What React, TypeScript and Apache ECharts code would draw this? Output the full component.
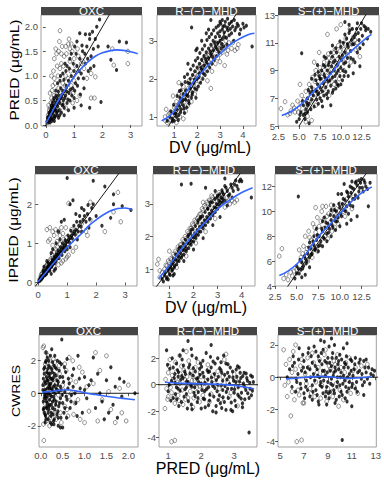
import React, { useEffect, useRef } from "react";
import * as echarts from "echarts";

type Pt = [number, number];

const NARROW = "'Liberation Sans Narrow','Arial Narrow','Liberation Sans',Arial,sans-serif";
const REG = "'Liberation Sans',Arial,sans-serif";

const strips = ["OXC", "R\u2212(\u2212)\u2212MHD", "S\u2212(+)\u2212MHD"];
const rowYTitles = ["PRED (\u03bcg/mL)", "IPRED (\u03bcg/mL)", "CWRES"];
const rowXTitles = ["DV (\u03bcg/mL)", "DV (\u03bcg/mL)", "PRED (\u03bcg/mL)"];

// ---------- Row 1: PRED vs DV ----------
const predDvOxcFilled: Pt[] = [
  [0.05,0.08],[0.08,0.12],[0.1,0.18],[0.12,0.1],[0.15,0.22],[0.18,0.3],[0.2,0.15],[0.22,0.25],[0.25,0.35],[0.28,0.2],
  [0.3,0.4],[0.32,0.3],[0.35,0.45],[0.38,0.25],[0.4,0.5],[0.42,0.38],[0.45,0.6],[0.48,0.3],[0.5,0.45],[0.55,0.55],
  [0.58,0.4],[0.6,0.7],[0.62,0.5],[0.65,0.35],[0.7,0.6],[0.72,0.8],[0.75,0.45],[0.8,0.9],[0.82,0.65],[0.85,0.5],
  [0.9,1.0],[0.95,0.75],[1.0,1.1],[1.0,0.55],[1.05,0.85],[1.1,1.2],[1.15,0.95],[1.2,1.35],[1.25,1.05],[1.3,1.5],
  [1.35,0.75],[1.4,1.25],[1.45,1.6],[1.5,1.1],[1.55,1.75],[1.6,1.4],[1.65,1.9],[1.7,1.2],[1.8,2.0],[1.85,1.6],
  [1.9,2.15],[1.95,0.47],[1.55,0.35],[2.3,1.33],[2.5,1.12],[2.6,1.7],[2.85,1.68],[2.2,1.6],[1.4,1.85],[1.1,1.7],
  [0.9,1.45],[0.75,1.2],[0.6,1.05],[0.5,0.9],[0.35,0.7],[1.25,0.4],[1.0,0.35],[0.8,0.3],[0.45,0.15],[0.3,0.08],
  [0.15,0.05],[0.25,0.12],[0.4,0.2],[0.55,0.25],[0.65,0.2],[1.2,1.87],[1.55,1.85],[0.2,0.4],[0.28,0.5],[0.33,0.18],
  [0.06,0.15],[0.09,0.05],[0.11,0.25],[0.13,0.17],[0.17,0.12],[0.19,0.35],[0.21,0.08],[0.23,0.45],[0.26,0.27],[0.29,0.55],
  [0.31,0.15],[0.34,0.32],[0.36,0.6],[0.39,0.42],[0.41,0.28],[0.44,0.68],[0.47,0.52],[0.49,0.2],[0.53,0.75],[0.57,0.62],
  [0.61,0.42],[0.64,0.92],[0.67,0.55],[0.71,1.1],[0.74,0.68],[0.78,0.52],[0.83,1.15],[0.87,0.72],[0.92,0.6],[0.97,1.25],
  [1.02,0.7],[1.07,1.45],[1.12,0.8],[1.18,1.1],[1.22,0.62],[1.28,1.62],[1.33,0.95],[1.38,1.45],[1.48,1.35],[1.58,1.15],
  [1.68,1.55],[1.75,1.75],[1.02,1.6],[0.85,1.35],[0.68,1.25],[0.52,1.0],[0.42,0.85],[0.38,0.55],[0.27,0.38],[0.16,0.28]
];
const predDvOxcOpen: Pt[] = [
  [0.5,1.92],[0.35,1.55],[0.45,1.5],[0.55,1.45],[0.7,1.6],[0.8,1.65],[0.85,1.55],[0.9,1.65],[0.65,1.4],[0.3,1.35],
  [0.4,1.2],[0.5,1.15],[0.2,1.0],[0.3,0.95],[0.25,0.8],[0.15,0.65],[0.2,0.55],[0.1,0.4],[0.12,0.3],[0.18,0.45],
  [0.3,0.6],[0.45,0.75],[0.6,0.85],[0.7,1.0],[0.55,1.25],[0.75,0.7],[0.9,0.8],[1.0,0.9],[1.0,1.35],[1.15,1.4],
  [1.3,1.3],[1.2,0.6],[1.1,0.5],[0.95,0.45],[0.7,0.35],[0.5,0.3],[0.35,0.35],[0.1,0.15],[0.05,0.05],[1.6,0.55],
  [1.72,0.55],[1.75,0.98],[2.4,1.22],[2.9,1.25],[2.9,1.5],[2.35,1.55],[1.6,1.05],[1.45,0.95],[0.85,1.3],[0.6,0.6],
  [0.08,0.2],[0.14,0.35],[0.22,0.7],[0.27,1.1],[0.33,0.85],[0.38,1.45],[0.43,1.0],[0.48,1.7],[0.52,0.65],[0.58,1.6],
  [0.62,1.2],[0.68,0.8],[0.73,1.45],[0.78,0.95],[0.82,1.75],[0.88,1.1],[0.93,1.5],[0.97,0.65],[1.05,1.2],[1.12,1.55],
  [1.25,1.25],[1.35,1.15],[0.25,0.5],[0.4,0.45],[0.16,0.2]
];
const predDvRFilled: Pt[] = [
  [0.7,0.9],[0.8,1.0],[0.9,0.95],[1.0,1.1],[1.0,0.9],[1.1,1.2],[1.1,1.0],[1.2,1.3],[1.2,1.05],[1.25,1.5],
  [1.3,1.2],[1.3,1.4],[1.4,1.6],[1.4,1.3],[1.45,1.1],[1.5,1.7],[1.5,1.45],[1.55,1.25],[1.6,1.9],[1.6,1.55],
  [1.65,1.35],[1.7,1.75],[1.7,2.0],[1.75,1.5],[1.8,2.1],[1.8,1.65],[1.85,1.9],[1.9,2.2],[1.9,1.75],[1.95,1.5],
  [2.0,2.3],[2.0,2.0],[2.05,1.8],[2.1,2.4],[2.1,2.15],[2.15,1.9],[2.2,2.5],[2.2,2.25],[2.25,2.0],[2.3,2.6],
  [2.3,2.35],[2.35,2.1],[2.4,2.7],[2.4,2.45],[2.45,2.2],[2.5,2.8],[2.5,2.55],[2.55,2.3],[2.6,2.9],[2.6,2.65],
  [2.65,2.4],[2.7,3.0],[2.7,2.75],[2.75,2.5],[2.8,3.1],[2.8,2.85],[2.85,2.6],[2.9,3.2],[2.9,2.95],[2.95,2.7],
  [3.0,3.25],[3.0,3.0],[3.05,2.8],[3.1,3.3],[3.1,3.05],[3.15,2.85],[3.2,3.4],[3.2,3.1],[3.3,3.35],[3.3,2.9],
  [3.4,3.45],[3.4,3.15],[3.5,3.5],[3.5,3.2],[3.6,3.0],[3.7,3.35],[3.8,3.4],[3.9,3.3],[4.0,3.45],[4.4,2.85],
  [1.76,3.35],[2.6,3.55],[3.0,3.5],[2.2,3.0],[1.6,2.4],[1.3,1.7],[2.0,2.8],[3.1,3.55],[2.4,3.2],[2.5,3.3],
  [0.85,1.15],[0.92,0.88],[0.98,1.32],[1.07,1.08],[1.13,1.55],[1.18,0.92],[1.23,1.68],[1.28,1.12],[1.33,1.85],[1.38,1.45],
  [1.43,1.22],[1.48,1.92],[1.53,1.58],[1.58,2.12],[1.63,1.42],[1.68,1.88],[1.72,2.25],[1.78,1.58],[1.83,2.35],[1.88,1.98],
  [1.93,2.48],[1.98,1.72],[2.03,2.55],[2.08,2.05],[2.12,2.68],[2.17,2.3],[2.23,2.78],[2.27,2.15],[2.33,2.88],[2.38,2.52],
  [2.43,3.02],[2.48,2.38],[2.53,3.1],[2.58,2.72],[2.63,3.18],[2.68,2.58],[2.72,3.28],[2.78,2.95],[2.83,3.35],[2.88,2.78],
  [2.93,3.4],[2.98,3.12],[3.03,3.45],[3.08,2.92],[3.13,3.38],[3.18,3.22],[3.23,3.5],[3.28,3.08],[3.35,3.28],[3.45,3.32],
  [3.55,3.38],[3.65,3.28],[3.75,3.45],[3.85,3.18],[4.05,3.35],[4.15,3.4],[3.62,3.55],[3.33,3.58],[1.95,2.75],[1.45,2.05]
];
const predDvROpen: Pt[] = [
  [0.6,1.0],[0.65,1.2],[0.7,0.85],[0.8,1.1],[0.9,1.05],[1.0,1.25],[1.05,0.95],[1.1,1.4],[1.15,1.15],[1.2,1.6],
  [1.25,1.0],[1.3,1.55],[1.35,1.25],[1.4,1.8],[1.45,1.4],[1.5,1.15],[1.55,1.65],[1.6,1.3],[1.65,1.95],[1.7,1.6],
  [1.75,1.4],[1.8,1.85],[1.85,2.05],[1.9,1.6],[1.95,2.0],[2.0,1.85],[2.05,2.2],[2.1,1.95],[2.15,2.35],[2.2,2.1],
  [2.25,2.5],[2.3,2.2],[2.35,2.6],[2.4,2.35],[2.45,1.95],[2.5,2.45],[2.55,2.7],[2.6,2.5],[2.65,2.2],[2.7,2.6],
  [2.75,2.85],[2.8,2.4],[2.85,2.75],[2.9,2.55],[2.95,2.9],[3.0,2.65],[3.1,2.7],[3.2,2.8],[3.3,2.65],[3.4,2.95],
  [3.5,2.8],[3.65,2.75],[3.2,2.35],[2.6,1.75],[1.4,0.95],[1.1,0.85],[0.95,1.55],[1.2,1.9],[3.8,2.9],[3.0,2.45],
  [0.62,0.9],[0.75,1.05],[0.85,0.92],[0.97,1.12],[1.08,1.22],[1.17,1.32],[1.27,1.4],[1.37,1.52],[1.47,1.62],[1.57,1.5],
  [1.62,1.75],[1.72,1.82],[1.82,1.72],[1.92,2.12],[2.02,2.08],[2.12,2.25],[2.22,2.4],[2.32,2.48],[2.42,2.58],[2.52,2.62],
  [2.62,2.78],[2.72,2.88],[2.82,2.95],[2.92,2.78],[3.02,2.9],[3.12,2.88],[3.25,3.0],[3.35,2.75],[3.55,2.95],[3.75,2.8]
];
const predDvSFilled: Pt[] = [
  [4.7,5.3],[5.0,5.5],[5.2,6.0],[5.5,5.8],[5.5,6.5],[5.8,6.2],[6.0,7.0],[6.0,6.0],[6.2,6.6],[6.3,7.4],
  [6.5,6.9],[6.5,7.8],[6.7,7.2],[6.8,6.4],[7.0,7.6],[7.0,8.3],[7.1,6.9],[7.2,8.0],[7.3,7.3],[7.4,8.6],
  [7.5,7.0],[7.5,7.8],[7.6,8.4],[7.7,9.0],[7.8,7.5],[7.9,8.1],[8.0,8.7],[8.0,7.2],[8.1,9.3],[8.2,7.8],
  [8.3,8.4],[8.4,9.0],[8.5,7.5],[8.5,8.2],[8.6,9.6],[8.7,8.8],[8.8,7.9],[8.9,9.3],[9.0,8.5],[9.0,10.0],
  [9.1,7.6],[9.2,9.0],[9.3,9.7],[9.4,8.2],[9.5,10.3],[9.5,8.8],[9.6,9.4],[9.7,7.9],[9.8,10.0],[9.9,8.6],
  [10.0,10.7],[10.0,9.2],[10.1,9.8],[10.2,8.3],[10.3,11.0],[10.4,9.5],[10.5,10.3],[10.6,8.9],[10.7,11.3],[10.8,9.9],
  [10.9,10.7],[11.0,11.7],[11.0,9.3],[11.2,10.4],[11.3,11.2],[11.4,12.0],[11.5,9.8],[11.6,10.9],[11.8,11.6],[12.0,12.4],
  [12.0,10.3],[12.2,11.2],[12.4,12.0],[12.6,11.5],[12.8,12.2],[13.0,11.9],[13.3,12.0],[13.6,11.8],[11.0,12.3],[10.5,12.5],
  [9.0,10.8],[5.3,10.25],[7.2,9.4],[6.5,8.4],[8.0,10.0],[12.3,9.3],[11.5,8.8],[8.8,6.5],[7.8,6.4],[6.2,5.2],[5.7,5.5],
  [5.1,5.8],[5.4,6.8],[5.9,6.7],[6.1,7.6],[6.4,6.2],[6.6,7.5],[6.9,8.7],[7.1,7.5],[7.3,8.9],[7.5,8.4],
  [7.7,6.8],[7.9,9.4],[8.1,8.5],[8.2,9.9],[8.4,7.0],[8.5,9.4],[8.7,8.3],[8.8,10.3],[9.0,7.4],[9.1,9.6],
  [9.3,8.6],[9.4,10.6],[9.6,8.0],[9.7,9.0],[9.9,11.1],[10.0,8.0],[10.2,10.1],[10.3,9.0],[10.5,11.6],[10.6,9.6],
  [10.8,10.9],[10.9,8.6],[11.1,11.9],[11.2,9.9],[11.4,10.9],[11.6,11.4],[11.7,9.6],[11.9,12.0],[12.1,11.7],[12.3,10.6],
  [12.5,12.4],[12.7,10.9],[13.0,12.1],[13.2,11.3],[6.0,6.5],[7.3,6.6],[8.3,7.3],[9.4,7.7],[10.4,8.6],[5.7,5.9]
];
const predDvSOpen: Pt[] = [
  [2.8,6.25],[3.3,6.75],[3.6,5.8],[4.0,6.1],[4.2,6.5],[4.5,6.0],[4.8,6.8],[5.0,6.3],[5.3,7.2],[5.5,6.0],
  [5.8,7.5],[6.0,6.8],[6.2,8.0],[6.4,7.2],[6.6,8.5],[6.5,5.4],[6.8,7.6],[7.0,9.0],[7.0,6.5],[7.3,8.2],
  [7.5,9.2],[7.6,7.2],[7.8,8.8],[8.0,9.6],[8.2,8.0],[8.4,9.2],[8.5,10.2],[8.6,7.2],[8.8,8.6],[9.0,9.9],
  [9.2,8.0],[9.3,10.5],[9.5,9.1],[9.7,10.8],[9.8,8.4],[10.0,9.5],[10.2,10.9],[10.4,9.0],[10.6,11.3],[10.8,10.1],
  [11.0,10.9],[11.2,9.6],[11.5,11.4],[11.8,10.5],[12.0,11.0],[12.3,10.0],[9.5,12.0],[10.0,12.3],[8.4,11.6],[7.4,10.3],
  [5.8,5.3],[6.0,5.7],[7.5,7.5],[8.0,8.4],[8.7,9.5],[9.6,9.8],[10.4,10.5],[5.1,8.0],[6.8,9.6],[11.1,12.0],
  [3.9,5.9],[4.4,6.3],[4.9,6.0],[5.2,6.6],[5.6,6.9],[5.9,6.4],[6.3,7.7],[6.6,6.8],[6.9,8.2],[7.2,7.4],
  [7.4,8.7],[7.7,7.9],[8.0,9.0],[8.3,8.6],[8.6,9.9],[8.9,9.1],[9.2,10.3],[9.5,9.5],[9.9,10.4],[10.2,9.8],
  [10.5,10.9],[10.9,10.4],[11.3,10.9],[11.7,11.2],[12.1,10.6],[6.2,6.3],[6.9,7.3],[7.9,7.6],[8.9,8.2],[9.9,9.0]
];

// ---------- Row 2: IPRED vs DV ----------
const ipredDvOxcFilled: Pt[] = [
  [0.03,0.03],[0.05,0.07],[0.08,0.1],[0.1,0.14],[0.12,0.1],[0.15,0.18],[0.18,0.2],[0.2,0.25],[0.22,0.18],[0.25,0.3],
  [0.28,0.25],[0.3,0.35],[0.32,0.28],[0.35,0.4],[0.38,0.33],[0.4,0.45],[0.42,0.38],[0.45,0.5],[0.48,0.42],[0.5,0.55],
  [0.52,0.47],[0.55,0.6],[0.58,0.5],[0.6,0.65],[0.62,0.55],[0.65,0.7],[0.7,0.75],[0.72,0.62],[0.75,0.8],[0.8,0.85],
  [0.82,0.7],[0.85,0.9],[0.9,0.95],[0.92,0.8],[0.95,1.0],[1.0,1.05],[1.0,0.85],[1.05,1.1],[1.1,1.15],[1.1,0.9],
  [1.15,1.2],[1.2,1.25],[1.25,1.3],[1.3,1.35],[1.35,1.1],[1.4,1.45],[1.45,1.55],[1.5,1.3],[1.55,1.6],[1.6,1.7],
  [1.7,1.75],[1.75,1.4],[1.85,1.9],[1.9,2.0],[2.0,1.7],[2.2,1.45],[2.3,2.45],[2.5,1.65],[2.6,2.0],[2.6,2.25],
  [2.9,1.95],[3.2,1.85],[1.9,2.6],[1.0,2.67],[1.2,2.1],[1.1,2.0],[0.9,1.6],[0.7,1.3],[0.5,0.85],[0.35,0.5],
  [0.2,0.4],[0.8,1.55],[1.3,1.75],[1.5,1.9],[0.6,0.35],[0.45,0.22],[0.55,0.3],[0.15,0.12],[0.25,0.2],[0.4,0.3],
  [0.04,0.06],[0.07,0.05],[0.09,0.13],[0.11,0.08],[0.13,0.16],[0.16,0.14],[0.19,0.24],[0.21,0.2],[0.24,0.26],[0.27,0.32],
  [0.29,0.22],[0.31,0.38],[0.34,0.3],[0.37,0.42],[0.39,0.36],[0.43,0.48],[0.46,0.4],[0.49,0.58],[0.53,0.52],[0.56,0.66],
  [0.59,0.58],[0.63,0.72],[0.66,0.62],[0.69,0.82],[0.73,0.7],[0.77,0.9],[0.81,0.78],[0.84,1.0],[0.88,0.86],[0.93,1.08],
  [0.97,0.92],[1.03,1.2],[1.08,1.02],[1.13,1.32],[1.18,1.12],[1.23,1.45],[1.28,1.22],[1.33,1.55],[1.38,1.3],[1.43,1.7],
  [1.48,1.42],[1.58,1.85],[1.65,1.55],[1.72,1.98],[1.78,1.62],[0.62,1.0],[0.75,1.1],[0.45,0.75],[0.3,0.55],[0.18,0.3]
];
const ipredDvOxcOpen: Pt[] = [
  [0.3,1.35],[0.4,1.4],[0.5,1.3],[0.6,1.35],[0.7,1.3],[0.75,1.2],[0.85,1.25],[0.95,1.4],[1.1,1.15],[1.2,0.8],
  [1.3,0.9],[1.4,1.25],[1.5,1.5],[1.65,1.3],[1.7,1.2],[1.8,1.6],[1.8,2.05],[0.35,1.05],[0.5,0.95],[0.6,0.85],
  [0.95,0.6],[0.85,0.55],[1.05,0.7],[0.25,0.4],[0.3,0.45],[0.15,0.25],[0.1,0.2],[0.2,0.32],[0.4,0.55],[0.5,0.62],
  [0.65,0.75],[0.7,0.45],[0.8,0.5],[1.0,0.65],[2.3,1.3],[2.85,1.55],[2.6,1.8],[2.75,2.3],[1.05,2.02],[0.55,0.4],
  [0.05,0.08],[0.09,0.15],[0.13,0.22],[0.18,0.28],[0.23,0.35],[0.28,0.42],[0.33,0.48],[0.38,0.5],[0.43,0.6],[0.48,0.7],
  [0.56,0.78],[0.66,0.9],[0.75,0.98],[0.88,1.1],[0.98,1.15],[1.15,1.35],[0.4,1.1],[0.55,1.2],[0.65,1.05],[0.8,1.4]
];
const ipredDvRFilled: Pt[] = [
  [0.7,0.7],[0.8,0.8],[0.9,0.75],[0.95,0.95],[1.0,0.85],[1.05,1.05],[1.1,0.95],[1.15,1.2],[1.2,1.05],[1.25,1.3],
  [1.3,1.15],[1.35,1.4],[1.4,1.25],[1.45,1.5],[1.5,1.35],[1.55,1.6],[1.6,1.45],[1.65,1.7],[1.7,1.55],[1.75,1.8],
  [1.8,1.65],[1.85,1.9],[1.9,1.75],[1.95,2.0],[2.0,1.85],[2.05,2.1],[2.1,1.95],[2.15,2.2],[2.2,2.05],[2.25,2.3],
  [2.3,2.15],[2.35,2.4],[2.4,2.25],[2.45,2.5],[2.5,2.35],[2.55,2.6],[2.6,2.45],[2.65,2.7],[2.7,2.55],[2.75,2.8],
  [2.8,2.65],[2.85,2.9],[2.9,2.75],[2.95,3.0],[3.0,2.85],[3.05,3.1],[3.1,2.95],[3.15,3.2],[3.2,3.05],[3.25,3.3],
  [3.3,3.1],[3.4,3.4],[3.5,3.3],[3.6,3.5],[3.7,3.6],[3.8,3.55],[3.9,3.7],[4.0,3.7],[4.4,3.2],[1.5,3.6],
  [2.5,3.5],[3.2,3.35],[3.0,3.25],[2.6,2.85],[2.2,2.5],[1.8,2.05],[1.4,1.65],[2.0,1.6],[2.4,1.95],[2.8,2.35],
  [3.1,2.6],[1.6,1.25],[1.2,0.85],[2.7,3.05],[2.3,2.6],[1.9,2.2],[3.4,2.95],[3.3,3.55],[3.6,3.2],[2.9,3.4],
  [0.75,0.62],[0.82,0.9],[0.88,0.7],[0.97,1.02],[1.03,0.82],[1.08,1.15],[1.13,0.98],[1.17,1.3],[1.22,1.1],[1.27,1.45],
  [1.33,1.25],[1.38,1.55],[1.42,1.35],[1.48,1.68],[1.52,1.42],[1.58,1.78],[1.62,1.58],[1.67,1.9],[1.72,1.62],[1.77,2.0],
  [1.83,1.78],[1.88,2.1],[1.92,1.85],[1.98,2.22],[2.02,1.98],[2.08,2.32],[2.12,2.05],[2.18,2.42],[2.22,2.15],[2.28,2.55],
  [2.32,2.3],[2.38,2.62],[2.42,2.35],[2.48,2.75],[2.52,2.48],[2.58,2.85],[2.62,2.55],[2.68,2.95],[2.72,2.68],[2.78,3.05],
  [2.82,2.72],[2.88,3.15],[2.92,2.88],[2.98,3.2],[3.02,2.98],[3.08,3.3],[3.12,3.05],[3.18,3.42],[3.22,3.15],[3.35,3.5],
  [3.45,3.25],[3.55,3.6],[3.65,3.4],[3.75,3.72],[3.85,3.45],[3.95,3.75],[1.9,3.62],[3.3,3.78],[1.15,0.8],[0.95,0.68]
];
const ipredDvROpen: Pt[] = [
  [0.5,1.15],[0.55,1.3],[0.8,1.0],[0.9,1.1],[1.0,1.2],[1.1,1.3],[1.2,1.4],[1.3,1.5],[1.4,1.6],[1.5,1.75],
  [1.6,1.85],[1.7,1.95],[1.8,2.1],[1.9,2.25],[2.0,2.35],[2.1,2.45],[2.2,2.6],[2.3,2.7],[2.4,2.8],[2.5,2.9],
  [2.6,3.0],[2.7,3.1],[2.8,3.2],[2.9,3.25],[3.0,3.2],[3.2,3.2],[3.6,3.1],[3.7,3.05],[1.3,1.05],[1.7,1.4],
  [2.1,1.8],[2.5,2.15],[2.9,2.55],[3.3,2.9],[3.5,3.0],[1.0,1.55],[2.4,3.05],[0.6,0.75],[1.1,1.1],[2.0,2.0],
  [0.6,0.95],[0.7,0.9],[0.85,1.12],[0.95,1.25],[1.05,1.32],[1.15,1.45],[1.25,1.55],[1.35,1.68],[1.45,1.75],[1.55,1.9],
  [1.65,2.0],[1.75,2.15],[1.85,2.25],[1.95,2.38],[2.05,2.5],[2.15,2.55],[2.25,2.68],[2.35,2.85],[2.45,2.95],[2.55,3.05],
  [2.65,3.12],[2.75,3.25],[2.85,3.1],[3.05,3.35],[3.15,3.12],[3.4,3.2],[3.8,3.12],[3.45,3.1]
];
const ipredDvSFilled: Pt[] = [
  [4.8,4.6],[5.0,5.0],[5.2,5.4],[5.5,5.3],[5.6,5.9],[5.8,5.6],[6.0,6.2],[6.1,5.8],[6.3,6.6],[6.5,6.3],
  [6.6,7.0],[6.8,6.6],[7.0,7.3],[7.1,6.9],[7.3,7.7],[7.5,7.2],[7.6,8.0],[7.8,7.6],[8.0,8.4],[8.1,7.9],
  [8.3,8.7],[8.5,8.2],[8.6,9.0],[8.8,8.6],[9.0,9.3],[9.1,8.9],[9.3,9.6],[9.5,9.2],[9.6,10.0],[9.8,9.5],
  [10.0,10.3],[10.1,9.8],[10.3,10.6],[10.5,10.1],[10.6,10.9],[10.8,10.4],[11.0,11.2],[11.1,10.7],[11.3,11.5],[11.5,11.0],
  [11.6,11.8],[11.8,11.3],[12.0,12.1],[12.2,11.6],[12.4,12.3],[12.6,11.9],[12.8,12.5],[13.0,12.0],[13.5,12.3],[13.3,10.4],
  [5.2,11.2],[10.5,12.2],[11.2,12.0],[9.8,11.4],[12.0,9.6],[11.3,9.3],[10.8,9.0],[6.5,5.5],[6.0,4.9],[5.6,4.7],
  [7.5,6.8],[8.5,7.6],[9.5,8.5],[7.0,8.0],[8.0,9.2],[9.0,10.1],[6.5,7.5],[10.8,11.6],[11.8,12.3],[12.2,12.5],
  [5.0,5.6],[5.3,5.0],[5.4,6.1],[5.7,5.4],[5.9,6.4],[6.2,6.0],[6.4,7.1],[6.7,6.5],[6.9,7.6],[7.2,7.0],
  [7.4,8.1],[7.7,7.3],[7.9,8.6],[8.2,7.8],[8.4,9.1],[8.7,8.3],[8.9,9.7],[9.2,8.7],[9.4,10.1],[9.7,9.2],
  [9.9,10.6],[10.2,9.6],[10.4,11.0],[10.7,10.0],[10.9,11.5],[11.2,10.5],[11.4,11.9],[11.7,11.0],[11.9,12.4],[12.1,11.1],
  [12.3,11.9],[12.5,12.6],[12.7,11.6],[12.9,12.3],[13.2,11.8],[8.0,7.2],[9.0,8.0],[10.0,8.8],[11.0,9.8],[11.5,10.4],
  [9.3,10.5],[8.2,9.5],[7.3,8.6],[10.2,11.4],[11.4,12.4]
];
const ipredDvSOpen: Pt[] = [
  [3.0,6.4],[3.3,7.0],[3.5,4.6],[3.8,4.9],[4.0,4.5],[4.3,5.1],[4.7,5.2],[5.3,6.9],[5.5,6.0],[5.8,7.2],
  [6.0,8.0],[6.2,7.0],[6.4,8.4],[6.7,7.7],[6.9,9.0],[7.2,8.3],[7.4,9.5],[7.6,8.8],[7.9,10.0],[8.2,9.4],
  [8.4,10.4],[8.7,9.8],[9.0,10.5],[9.3,9.9],[9.6,10.2],[10.0,10.6],[10.4,10.0],[10.8,11.0],[11.2,11.3],[5.5,6.3],
  [6.3,6.0],[7.0,7.0],[7.7,7.3],[8.3,8.0],[9.1,8.4],[9.8,9.0],[10.6,9.6],[11.4,10.2],[8.0,10.4],[7.2,10.3],
  [4.5,4.8],[5.0,5.3],[5.7,6.6],[6.1,6.7],[6.5,7.9],[6.8,7.2],[7.1,8.7],[7.5,8.0],[7.8,9.2],[8.1,8.6],
  [8.5,9.6],[8.9,9.1],[9.2,10.1],[9.7,9.6],[10.1,10.3],[10.5,10.5],[6.8,6.3],[7.4,6.8],[8.6,7.8],[9.4,8.7]
];

// ---------- Row 3: CWRES vs PRED ----------
const cwresPredOxcFilled: Pt[] = [
  [0.05,0.5],[0.06,-0.5],[0.08,1.2],[0.08,-1.2],[0.1,0.2],[0.1,-0.2],[0.12,2.0],[0.12,-1.6],[0.14,0.8],[0.14,-0.8],
  [0.16,1.5],[0.16,0.0],[0.18,-1.0],[0.18,0.6],[0.2,1.0],[0.2,-0.4],[0.22,2.3],[0.22,-1.8],[0.24,0.3],[0.24,-0.7],
  [0.26,1.3],[0.26,0.9],[0.28,-1.3],[0.28,0.1],[0.3,1.7],[0.3,-0.2],[0.32,0.5],[0.32,-1.0],[0.35,1.1],[0.35,-0.5],
  [0.38,2.0],[0.38,0.2],[0.4,-1.5],[0.4,0.7],[0.42,1.4],[0.45,-0.3],[0.45,0.4],[0.48,3.3],[0.5,-2.1],[0.5,1.0],
  [0.55,0.1],[0.55,-0.9],[0.6,2.1],[0.6,-0.4],[0.65,0.6],[0.7,-0.1],[0.75,1.5],[0.8,-0.6],[0.85,2.3],[0.9,0.3],
  [0.95,-1.2],[1.0,1.0],[1.05,-0.3],[1.1,0.5],[1.2,2.2],[1.25,-0.9],[1.3,1.2],[1.35,0.0],[1.4,-0.5],[1.5,0.8],
  [1.55,-1.2],[1.6,1.6],[1.65,-0.7],[1.7,0.4],[1.75,-1.5],[1.8,0.9],[1.85,-0.2],[1.9,0.7],[2.15,0.0],[1.45,-1.6],
  [0.4,-2.0],[0.25,-1.9],[0.3,-1.9],[0.45,-2.1],[1.0,0.2],[1.15,0.8],[0.08,0.1],[0.12,-0.3],[0.2,0.3],[0.15,-0.6],
  [0.06,0.9],[0.07,-0.9],[0.09,1.6],[0.09,-0.1],[0.11,0.6],[0.11,-1.4],[0.13,1.0],[0.13,-0.5],[0.15,2.2],[0.15,0.3],
  [0.17,-1.2],[0.17,1.2],[0.19,0.0],[0.19,-0.8],[0.21,1.6],[0.21,0.5],[0.23,-1.4],[0.23,0.9],[0.25,-0.2],[0.27,1.9],
  [0.27,-0.9],[0.29,0.4],[0.31,-1.6],[0.31,1.2],[0.33,0.0],[0.34,-0.7],[0.36,1.5],[0.37,0.8],[0.39,-1.1],[0.41,0.1],
  [0.43,-0.6],[0.44,1.0],[0.46,-1.5],[0.47,1.8],[0.49,-0.1],[0.52,0.7],[0.53,-1.2],[0.57,1.3],[0.58,-0.2],[0.62,0.3],
  [0.67,-0.9],[0.72,1.1],[0.78,0.0],[0.83,-1.4],[0.88,0.9],[0.12,2.5],[0.18,2.0],[0.25,2.7],[0.32,2.3],[0.1,-1.8],
  [0.05,0.2],[0.06,-1.0],[0.07,1.5],[0.08,-0.3],[0.09,0.7],[0.1,-1.3],[0.11,1.9],[0.12,0.0],[0.13,-0.9],[0.14,1.3],
  [0.15,-0.2],[0.16,0.8],[0.17,-1.6],[0.18,1.7],[0.19,0.4],[0.2,-0.7],[0.21,1.2],[0.22,-0.1],[0.23,0.6],[0.24,-1.2],
  [0.25,1.5],[0.26,0.2],[0.27,-0.5],[0.28,0.8],[0.29,-1.7],[0.3,1.0],[0.31,-0.4],[0.33,1.6],[0.35,0.3],[0.37,-1.3],
  [0.39,0.5],[0.41,-0.8],[0.43,1.9],[0.46,0.2],[0.5,-0.6],[0.54,1.6],[0.59,-1.5],[0.63,0.9],[0.69,-0.5],[0.74,0.4]
];
const cwresPredOxcOpen: Pt[] = [
  [0.05,2.8],[0.06,-1.9],[0.07,2.9],[0.07,-2.9],[0.1,1.8],[0.1,-1.0],[0.12,0.4],[0.12,2.5],[0.15,-1.4],[0.15,1.1],
  [0.18,-0.3],[0.2,2.0],[0.2,-2.0],[0.22,0.7],[0.25,-1.1],[0.28,1.6],[0.3,-0.7],[0.32,1.9],[0.35,-1.6],[0.38,0.9],
  [0.4,-0.1],[0.42,1.7],[0.45,-1.2],[0.5,0.5],[0.55,1.8],[0.6,-1.0],[0.65,2.2],[0.7,0.0],[0.75,-1.3],[0.8,0.7],
  [0.85,-0.4],[0.9,-1.6],[0.95,1.3],[1.0,-1.8],[1.05,0.4],[1.1,-1.1],[1.2,0.6],[1.3,-1.7],[1.35,1.4],[1.4,-0.4],
  [1.5,2.3],[1.55,0.1],[1.6,-1.0],[1.7,-1.8],[1.8,0.3],[1.85,-1.2],[1.95,-1.7],[2.0,0.5],[1.25,2.5],[0.55,-0.8],[0.65,-0.2],
  [0.08,0.6],[0.09,-0.6],[0.11,1.4],[0.13,-1.7],[0.14,0.2],[0.16,-0.9],[0.17,2.3],[0.19,0.9],[0.21,-1.5],[0.24,1.3],
  [0.26,-0.4],[0.29,2.1],[0.31,0.3],[0.34,-1.3],[0.36,0.6],[0.39,-0.6],[0.43,1.2],[0.47,-1.8],[0.52,0.2],[0.58,1.4],
  [0.62,-1.4],[0.68,0.8],[0.73,2.0],[0.78,-0.6],[0.88,1.6]
];
const cwresPredRFilled: Pt[] = [
  [0.95,2.6],[1.0,-0.5],[1.05,1.2],[1.1,0.3],[1.15,-1.0],[1.2,0.8],[1.25,1.6],[1.3,-0.3],[1.35,2.2],[1.4,-1.3],
  [1.45,0.5],[1.5,1.0],[1.55,-0.7],[1.6,3.3],[1.6,0.2],[1.65,1.5],[1.7,-1.5],[1.75,0.7],[1.8,-0.2],[1.85,2.0],
  [1.9,-1.0],[1.95,1.2],[2.0,0.1],[2.0,-1.8],[2.05,0.9],[2.1,-0.5],[2.15,2.4],[2.2,0.4],[2.25,-1.2],[2.3,1.3],
  [2.35,-0.1],[2.4,0.8],[2.45,-1.6],[2.5,2.0],[2.5,0.0],[2.55,-0.8],[2.6,1.1],[2.65,0.3],[2.7,-1.3],[2.75,1.6],
  [2.8,-0.3],[2.85,0.6],[2.9,-1.9],[2.95,1.0],[3.0,-0.6],[3.05,0.2],[3.1,1.4],[3.15,-0.9],[3.2,0.5],[3.25,-1.4],
  [3.3,0.9],[3.35,-0.4],[3.4,0.3],[3.45,-1.0],[3.5,0.7],[3.55,0.6],[3.45,-3.6],[2.3,3.0],[1.7,2.7],[2.05,1.8],
  [2.35,-2.0],[2.95,-2.0],[3.15,1.3],[1.3,0.6],[1.55,-0.2],[2.65,-0.4],[2.25,1.0],[1.9,0.5],[2.1,-1.1],[2.8,0.9],
  [0.98,1.5],[1.03,0.0],[1.08,-1.2],[1.12,2.0],[1.18,0.5],[1.22,-0.7],[1.28,1.1],[1.32,-1.6],[1.38,0.4],[1.42,1.9],
  [1.48,-0.9],[1.52,0.8],[1.58,-1.8],[1.62,1.3],[1.68,0.0],[1.72,2.2],[1.78,-0.6],[1.82,1.0],[1.88,-1.3],[1.92,0.2],
  [1.98,1.6],[2.02,-0.4],[2.08,0.6],[2.12,-1.7],[2.18,1.1],[2.22,-0.2],[2.28,2.1],[2.32,0.2],[2.38,-0.9],[2.42,1.6],
  [2.48,-0.5],[2.52,0.6],[2.58,-1.4],[2.62,0.9],[2.68,2.2],[2.72,-0.1],[2.78,0.4],[2.82,-1.0],[2.88,1.3],[2.92,-0.3],
  [2.98,0.3],[3.02,-1.2],[3.08,0.6],[3.12,-0.2],[3.18,0.9],[3.22,-0.6],[3.28,0.1],[3.32,-1.1],[3.38,0.5],[3.48,-0.3],
  [3.52,-0.8],[3.58,0.2],[3.05,-1.6],[2.6,1.7],[1.45,2.6],[2.45,-2.1],[2.75,-1.9],[3.25,-1.7],[1.15,1.3],[1.25,-0.2],
  [1.21,0.15],[1.26,-1.1],[1.31,0.95],[1.36,-0.45],[1.41,0.65],[1.46,1.45],[1.51,-0.35],[1.56,0.25],[1.61,-1.25],[1.66,0.85],
  [1.71,-0.15],[1.76,1.25],[1.81,-0.85],[1.86,0.45],[1.91,-0.55],[1.96,0.75],[2.01,1.35],[2.06,-1.05],[2.11,0.15],[2.16,-0.35],
  [2.21,0.95],[2.26,-0.75],[2.31,0.55],[2.36,1.75],[2.41,-0.25],[2.46,0.35],[2.51,-1.15],[2.56,1.25],[2.61,-0.05],[2.66,-0.95],
  [2.71,0.75],[2.76,-0.55],[2.81,1.55],[2.86,0.05],[2.91,-1.35],[2.96,0.55],[3.01,-0.35],[3.06,1.15],[3.11,-0.75],[3.16,0.25],
  [3.21,-1.05],[3.26,0.65],[3.31,-0.15],[3.36,0.85],[3.41,-0.65],[1.72,-1.85],[2.22,-1.55],[2.62,-1.75],[3.47,0.15],[3.55,-0.45]
];
const cwresPredROpen: Pt[] = [
  [0.9,-1.8],[0.95,-0.3],[1.0,0.9],[1.0,-0.9],[1.05,1.9],[1.1,-0.6],[1.15,0.4],[1.2,-1.4],[1.25,1.0],[1.3,-0.8],
  [1.35,0.1],[1.4,1.4],[1.45,-1.5],[1.5,0.4],[1.55,2.5],[1.6,-1.0],[1.65,0.0],[1.7,1.0],[1.75,-1.7],[1.8,0.3],
  [1.85,-0.6],[1.9,1.7],[1.95,-1.3],[2.0,0.6],[2.1,-0.2],[2.2,1.5],[2.3,-0.7],[2.4,0.1],[2.5,1.0],[2.6,-1.1],
  [2.7,1.9],[2.8,0.2],[2.9,-0.6],[3.0,0.8],[3.1,-1.6],[3.2,0.0],[2.75,2.3],[1.95,-0.1],[1.1,-4.3],[1.2,-4.2],
  [2.45,0.5],[1.75,0.6],
  [0.92,0.4],[0.98,-1.1],[1.02,1.4],[1.07,-0.2],[1.12,0.7],[1.17,-0.9],[1.22,1.7],[1.27,0.2],[1.32,-1.2],[1.37,0.8],
  [1.42,-0.4],[1.47,1.1],[1.52,-1.1],[1.57,0.6],[1.62,1.8],[1.67,-0.5],[1.72,0.3],[1.77,-1.0],[1.82,1.3],[1.87,-0.2],
  [1.97,0.9],[2.05,-0.8],[2.15,0.3],[2.25,-1.3],[2.35,0.7],[2.55,-0.3],[2.65,0.6],[2.85,-0.9],[3.05,0.3],[1.35,2.2]
];
const cwresPredSFilled: Pt[] = [
  [5.6,0.0],[6.0,-0.6],[6.2,0.9],[6.4,-0.3],[6.6,1.8],[6.8,0.4],[7.0,-1.0],[7.0,1.0],[7.2,-0.2],[7.3,0.6],
  [7.5,-1.2],[7.6,1.3],[7.7,-0.5],[7.8,0.2],[8.0,1.6],[8.0,-0.8],[8.1,0.5],[8.2,-1.5],[8.3,1.0],[8.4,-0.3],
  [8.5,0.8],[8.6,-1.0],[8.7,2.2],[8.8,0.1],[8.9,-0.6],[9.0,1.2],[9.1,-1.3],[9.2,0.4],[9.3,-0.1],[9.4,1.5],
  [9.5,-0.8],[9.6,0.6],[9.7,-1.4],[9.8,0.0],[9.9,1.0],[10.0,-0.5],[10.1,0.3],[10.2,-1.1],[10.3,1.8],[10.4,-0.2],
  [10.5,0.8],[10.6,-0.9],[10.8,0.2],[10.9,1.1],[11.0,-0.6],[11.2,0.5],[11.4,-0.3],[11.6,0.9],[11.8,-0.1],[12.0,1.0],
  [12.2,0.3],[12.5,-0.4],[12.7,0.5],[12.0,-1.1],[10.2,-3.9],[9.3,2.4],[10.6,2.1],[11.0,-1.8],[8.4,2.3],[7.4,1.8],
  [5.8,0.5],[6.1,1.3],[6.3,-0.9],[6.5,0.2],[6.7,-0.4],[6.9,1.4],[7.1,0.3],[7.3,-0.8],[7.5,0.5],[7.7,0.9],
  [7.9,-0.2],[8.1,-1.1],[8.2,1.3],[8.3,0.0],[8.5,-0.6],[8.6,1.7],[8.7,0.4],[8.8,-1.2],[8.9,0.9],[9.0,-0.3],
  [9.1,1.9],[9.2,-0.9],[9.3,0.7],[9.4,-0.5],[9.5,0.3],[9.6,-1.6],[9.7,1.2],[9.8,-0.3],[9.9,0.5],[10.0,1.4],
  [10.1,-0.9],[10.3,0.1],[10.4,0.9],[10.5,-0.6],[10.7,0.6],[10.8,-0.3],[11.0,1.0],[11.1,0.1],[11.3,-0.7],[11.5,0.3],
  [11.7,1.1],[11.9,-0.5],[12.1,0.6],[12.3,-0.1],[12.6,0.2],[12.8,0.1],[12.2,1.1],[11.3,1.2],[7.7,-1.4],[8.9,-1.7],
  [6.05,0.7],[6.35,-0.1],[6.55,1.1],[6.75,-0.7],[6.95,0.6],[7.15,-0.6],[7.35,1.5],[7.55,0.0],[7.75,-0.9],[7.95,0.7],
  [8.15,0.1],[8.35,-0.5],[8.45,1.5],[8.55,0.4],[8.65,-0.2],[8.75,1.0],[8.85,-0.9],[8.95,0.3],[9.05,-1.0],[9.15,0.9],
  [9.25,-0.4],[9.35,1.2],[9.45,0.1],[9.55,-1.0],[9.65,0.4],[9.75,-0.6],[9.85,0.8],[9.95,-1.2],[10.05,0.0],[10.15,1.1],
  [10.25,-0.4],[10.35,0.6],[10.45,-1.3],[10.55,1.3],[10.65,0.0],[10.75,-0.7],[10.95,0.4],[11.05,-0.4],[11.25,0.8],[11.45,-0.9],
  [11.65,0.4],[11.85,0.2],[12.05,-0.3],[12.4,0.6],[12.9,0.4],[7.85,1.9],[9.55,2.0],[8.25,-1.7],[10.6,-1.5],[7.05,-1.3]
];
const cwresPredSOpen: Pt[] = [
  [5.3,1.7],[5.4,-0.5],[5.6,-1.2],[5.8,1.1],[5.9,-2.4],[6.0,0.3],[6.2,-1.4],[6.3,2.0],[6.4,-4.0],[6.8,-3.9],
  [6.5,-0.8],[6.7,0.7],[6.9,-1.6],[7.1,0.2],[7.3,1.2],[7.5,-0.7],[7.7,1.5],[7.9,-1.2],[8.1,0.3],[8.3,1.1],
  [8.5,-0.5],[8.7,1.4],[8.9,-1.5],[9.1,0.7],[9.3,-0.9],[9.5,1.0],[9.7,-0.4],[9.9,-1.8],[10.1,0.6],[10.3,-1.4],
  [10.5,0.9],[10.7,-0.2],[10.9,-1.0],[11.1,0.4],[11.3,0.6],[11.5,-1.0],[12.3,0.8],[6.0,-0.9],[7.0,-1.6],
  [5.5,0.8],[5.7,-0.3],[6.1,1.6],[6.3,0.5],[6.6,-1.1],[6.8,1.1],[7.2,-0.4],[7.4,0.6],[7.6,-1.0],[7.8,0.9],
  [8.0,-0.3],[8.2,0.6],[8.4,-1.3],[8.6,0.2],[8.8,1.7],[9.0,-0.7],[9.2,0.5],[9.4,-1.2],[9.6,0.8],[9.8,1.4],
  [10.0,-0.8],[10.4,0.3],[10.8,1.2],[11.2,-0.6],[11.8,0.7]
];

// ---------- smooth (loess) curves ----------
const loessPredDvOxc: Pt[] = [[0.02,0.05],[0.25,0.3],[0.5,0.56],[0.75,0.78],[1,0.98],[1.25,1.15],[1.5,1.29],[1.75,1.4],[2,1.47],[2.25,1.51],[2.5,1.53],[2.75,1.52],[3,1.49],[3.25,1.45]];
const loessPredDvR: Pt[] = [[0.45,0.9],[0.75,1.0],[1,1.15],[1.25,1.42],[1.5,1.63],[1.75,1.85],[2,2.03],[2.25,2.2],[2.5,2.37],[2.75,2.52],[3,2.66],[3.25,2.8],[3.5,2.93],[3.75,3.02],[4,3.1],[4.25,3.17],[4.5,3.2]];
const loessPredDvS: Pt[] = [[2.9,5.75],[4,6.05],[5,6.45],[6,7.0],[7,7.65],[8,8.25],[9,8.9],[10,9.7],[11,10.25],[12,10.8],[13,11.3],[13.7,11.6]];
const loessIpredDvOxc: Pt[] = [[0,0.02],[0.25,0.24],[0.5,0.47],[0.75,0.69],[1,0.9],[1.25,1.08],[1.5,1.25],[1.75,1.45],[2,1.6],[2.25,1.73],[2.5,1.83],[2.75,1.89],[3,1.9],[3.25,1.85]];
const loessIpredDvR: Pt[] = [[0.55,0.7],[1,1.12],[1.5,1.62],[2,2.05],[2.5,2.45],[3,2.85],[3.5,3.12],[4,3.35],[4.45,3.5]];
const loessIpredDvS: Pt[] = [[3.0,4.85],[4,5.2],[5,5.75],[6,6.5],[7,7.5],[8,8.35],[9,9.05],[10,9.8],[11,10.55],[12,11.2],[13,11.7],[13.7,11.95]];
const loessCwresPredOxc: Pt[] = [[0.03,0.08],[0.2,0.1],[0.4,0.18],[0.6,0.22],[0.8,0.15],[1,0.03],[1.25,-0.08],[1.5,-0.18],[1.75,-0.27],[2,-0.35],[2.15,-0.4]];
const loessCwresPredR: Pt[] = [[0.9,0.18],[1.25,0.13],[1.5,0.1],[2,0.07],[2.5,0.03],[3,-0.05],[3.25,-0.15],[3.6,-0.3]];
const loessCwresPredS: Pt[] = [[5.5,-0.1],[6.5,-0.05],[7.5,0.02],[8.5,0.05],[9.5,0.0],[10.5,-0.07],[11.5,-0.05],[12.6,0.03]];

// ---------- tick values ----------
const xTicks: number[][] = [
  [0,1,2,3],[1,2,3,4],[2.5,5,7.5,10,12.5],
  [0,1,2,3],[1,2,3,4],[2.5,5,7.5,10,12.5],
  [0,0.5,1,1.5,2],[1,2,3],[5,7,9,11,13]
];
const yTicks: number[][] = [
  [0,0.5,1,1.5,2],[1,2,3],[5,7,9,11,13],
  [0,1,2],[1,2,3],[4,6,8,10,12],
  [-2,0,2],[-4,-2,0,2],[-4,-2,0,2]
];

const filledSets = [predDvOxcFilled, predDvRFilled, predDvSFilled, ipredDvOxcFilled, ipredDvRFilled, ipredDvSFilled, cwresPredOxcFilled, cwresPredRFilled, cwresPredSFilled];
const openSets = [predDvOxcOpen, predDvROpen, predDvSOpen, ipredDvOxcOpen, ipredDvROpen, ipredDvSOpen, cwresPredOxcOpen, cwresPredROpen, cwresPredSOpen];
const loessSets = [loessPredDvOxc, loessPredDvR, loessPredDvS, loessIpredDvOxc, loessIpredDvR, loessIpredDvS, loessCwresPredOxc, loessCwresPredR, loessCwresPredS];

// layout of each panel (pixels) and axis ranges
const panels = [
  { left: 41, top: 15, width: 101, height: 111, x: [-0.17, 3.4], y: [-0.02, 2.24], xd: 0, yd: 1 },
  { left: 157, top: 15, width: 99, height: 111, x: [0.25, 4.57], y: [0.76, 3.68], xd: 0, yd: 0 },
  { left: 278, top: 15, width: 101, height: 111, x: [2.45, 14.6], y: [5, 13], xd: 1, yd: 0 },
  { left: 35, top: 174, width: 102, height: 112, x: [-0.11, 3.41], y: [-0.09, 2.77], xd: 0, yd: 0 },
  { left: 153, top: 174, width: 102, height: 112, x: [0.32, 4.55], y: [0.48, 3.92], xd: 0, yd: 0 },
  { left: 275, top: 174, width: 102, height: 112, x: [2.5, 14.3], y: [4, 13], xd: 1, yd: 0 },
  { left: 39, top: 335, width: 99, height: 112, x: [-0.04, 2.22], y: [-3.3, 3.58], xd: 1, yd: 0 },
  { left: 159, top: 335, width: 98, height: 112, x: [0.72, 3.69], y: [-4.7, 3.75], xd: 0, yd: 0 },
  { left: 278, top: 335, width: 99, height: 112, x: [4.83, 13.05], y: [-4.33, 2.62], xd: 0, yd: 0 }
];

const yTitlePos = [{ x: 15, y: 70 }, { x: 14, y: 230 }, { x: 16, y: 391 }];
const xTitlePos = [{ x: 210, y: 147 }, { x: 206, y: 307 }, { x: 208, y: 468 }];

export default function App() {
  const ref = useRef<HTMLDivElement>(null);
  useEffect(() => {
    document.body.style.margin = "0";
    if (!ref.current) return;
    const chart = echarts.init(ref.current, undefined, { renderer: "svg" });

    const grid = panels.map((p) => ({
      left: p.left, top: p.top, width: p.width, height: p.height,
      show: true, borderColor: "#8a8a8a", borderWidth: 0.8, backgroundColor: "#fff"
    }));
    const axisLabelBase = { color: "#4d4d4d", fontSize: 9.5, fontFamily: NARROW, lineHeight: 9 };
    const xAxis = panels.map((p, i) => ({
      type: "value", gridIndex: i, min: p.x[0], max: p.x[1],
      splitLine: { show: false }, axisLine: { show: false },
      axisTick: { show: true, length: 3, lineStyle: { color: "#333", width: 0.8 }, customValues: xTicks[i] },
      axisLabel: { ...axisLabelBase, margin: i === 2 || i === 5 ? 5.5 : 4, customValues: xTicks[i], formatter: (v: number) => v.toFixed(p.xd) }
    }));
    const yAxis = panels.map((p, i) => ({
      type: "value", gridIndex: i, min: p.y[0], max: p.y[1],
      splitLine: { show: false }, axisLine: { show: false },
      axisTick: { show: true, length: 3, lineStyle: { color: "#333", width: 0.8 }, customValues: yTicks[i] },
      axisLabel: { ...axisLabelBase, margin: 3, customValues: yTicks[i], formatter: (v: number) => v.toFixed(p.yd) }
    }));

    const series: any[] = [];
    panels.forEach((p, i) => {
      series.push({
        type: "scatter", xAxisIndex: i, yAxisIndex: i, data: openSets[i], symbol: "circle",
        symbolSize: [3.6, 4.4], silent: true,
        itemStyle: { color: "rgba(255,255,255,0)", borderColor: "#3a3a3a", borderWidth: 0.7 }
      });
      series.push({
        type: "scatter", xAxisIndex: i, yAxisIndex: i, data: filledSets[i], symbol: "circle",
        symbolSize: [3.2, 4], silent: true, itemStyle: { color: "#000" }
      });
      const refLine = i < 6 ? [[-10, -10], [20, 20]] : [[-10, 0], [20, 0]];
      series.push({
        type: "line", xAxisIndex: i, yAxisIndex: i, data: refLine, symbol: "none", silent: true, clip: true,
        lineStyle: { color: "#000", width: 0.9 }
      });
      series.push({
        type: "line", xAxisIndex: i, yAxisIndex: i, data: loessSets[i], symbol: "none", smooth: 0.4, silent: true, clip: true,
        lineStyle: { color: "#3366ff", width: 1.6 }
      });
    });

    const graphic: any[] = [];
    panels.forEach((p, i) => {
      graphic.push({ type: "rect", shape: { x: p.left, y: p.top - 8, width: p.width, height: 8 }, style: { fill: "#454545" }, silent: true });
      graphic.push({
        type: "text", x: p.left + p.width / 2, y: p.top - 3.6, silent: true,
        style: { text: strips[i % 3], fill: "#fff", fontSize: 11.5, fontFamily: NARROW, align: "center", verticalAlign: "middle", textAlign: "center", textVerticalAlign: "middle" }
      });
    });
    rowYTitles.forEach((t, r) => {
      graphic.push({
        type: "text", x: yTitlePos[r].x, y: yTitlePos[r].y, rotation: Math.PI / 2, scaleY: 0.82, silent: true,
        style: { text: t, fill: "#000", fontSize: r === 2 ? 14 : 15.5, fontFamily: REG, align: "center", verticalAlign: "middle", textAlign: "center", textVerticalAlign: "middle" }
      });
    });
    rowXTitles.forEach((t, r) => {
      graphic.push({
        type: "text", x: xTitlePos[r].x, y: xTitlePos[r].y, silent: true,
        style: { text: t, fill: "#000", fontSize: 16, fontFamily: NARROW, align: "center", verticalAlign: "middle", textAlign: "center", textVerticalAlign: "middle" }
      });
    });

    chart.setOption({ animation: false, backgroundColor: "#fff", grid, xAxis, yAxis, series, graphic });
    return () => chart.dispose();
  }, []);
  return <div ref={ref} style={{ width: 384, height: 480 }} />;
}
